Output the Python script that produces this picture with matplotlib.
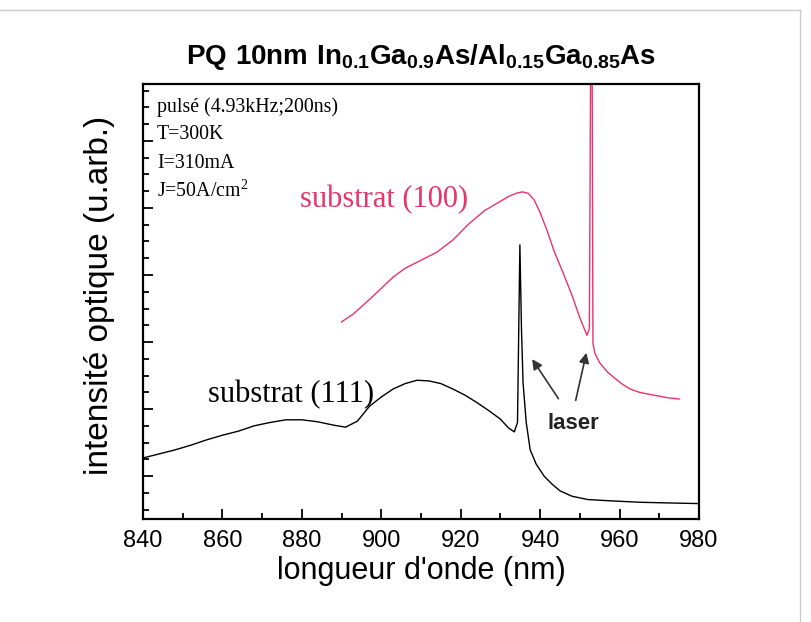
import numpy as np
import matplotlib
matplotlib.use("Agg")
import matplotlib.pyplot as plt
from matplotlib.ticker import MultipleLocator, NullFormatter
from matplotlib.lines import Line2D

# substrat (111) spectrum, black
wl_111 = [840, 844, 848, 852, 856, 860, 864, 868, 872, 876, 880, 884, 888, 891,
          894, 897, 900, 903, 906, 909, 912, 915, 918, 921, 924, 927, 930, 932,
          933.5, 934.3, 934.9, 935.3, 935.7, 936.5, 937.5, 939, 941, 943, 945,
          948, 952, 958, 965, 972, 980]
int_111 = [0.27, 0.33, 0.39, 0.46, 0.54, 0.61, 0.67, 0.75, 0.80, 0.84, 0.84, 0.81,
           0.76, 0.73, 0.82, 1.04, 1.18, 1.30, 1.38, 1.43, 1.42, 1.38, 1.30, 1.21,
           1.10, 0.98, 0.85, 0.72, 0.66, 0.80, 3.45, 2.20, 1.39, 0.80, 0.39, 0.18,
           0.00, -0.12, -0.22, -0.30, -0.35, -0.37, -0.39, -0.40, -0.41]

# substrat (100) spectrum, pink
wl_100 = [890, 893, 896, 900, 903, 906, 910, 914, 918, 922, 926, 930, 932, 934,
          935.5, 937, 938.5, 940, 941.7, 943.5, 945.8, 948, 950, 951.8, 952.4,
          952.7, 953.1, 953.3, 953.8, 955, 957, 958.4, 960.5, 962.6, 965, 968.4,
          972, 975]
int_100 = [2.30, 2.42, 2.58, 2.80, 2.97, 3.10, 3.22, 3.34, 3.52, 3.76, 3.96, 4.10,
           4.17, 4.22, 4.24, 4.22, 4.12, 3.93, 3.67, 3.36, 3.03, 2.70, 2.36, 2.10,
           2.20, 5.95, 5.95, 1.98, 1.83, 1.69, 1.55, 1.48, 1.38, 1.30, 1.25, 1.21,
           1.17, 1.15]

x_ticks = [840, 860, 880, 900, 920, 940, 960, 980]
conditions = ["pulsé (4.93kHz;200ns)", "T=300K", "I=310mA", "J=50A/cm$^2$"]
cond_y = [5.51, 5.09, 4.67, 4.25]

pink = "#e8336b"
plt.rcParams["mathtext.fontset"] = "custom"
plt.rcParams["mathtext.bf"] = "Liberation Sans:bold"
plt.rcParams["mathtext.rm"] = "Liberation Serif"

fig = plt.figure(figsize=(8.11, 6.22), dpi=100)
ax = fig.add_axes([0.1763, 0.1656, 0.6856, 0.6994])

ax.plot(wl_111, int_111, color="black", linewidth=1.0)
ax.plot(wl_100, int_100, color=pink, linewidth=1.0)

ax.set_xlim(840, 980)
ax.set_ylim(-0.64, 5.85)
ax.set_xticks(x_ticks)
ax.xaxis.set_minor_locator(MultipleLocator(10))
ax.yaxis.set_major_locator(MultipleLocator(1))
ax.yaxis.set_minor_locator(MultipleLocator(0.25))
ax.yaxis.set_major_formatter(NullFormatter())
ax.tick_params(which="both", direction="in", top=False, right=False, width=1.3)
ax.tick_params(which="major", length=7)
ax.tick_params(which="minor", length=4)
ax.tick_params(axis="x", labelsize=17, pad=8)
for lab in ax.get_xticklabels():
    lab.set_family("Liberation Sans")
for sp in ax.spines.values():
    sp.set_linewidth(1.6)

ax.set_xlabel("longueur d'onde (nm)", fontsize=22, family="Liberation Sans", labelpad=3)
ax.set_ylabel("intensité optique (u.arb.)", fontsize=24, family="Liberation Sans")
ax.yaxis.set_label_coords(-0.050, 0.515)

fig.text(0.519, 1 - 57 / 622,
         r"$\mathbf{PQ\ 10nm\ In_{0.1}Ga_{0.9}As/Al_{0.15}Ga_{0.85}As}$",
         fontsize=20, ha="center", va="center")

for txt, yy in zip(conditions, cond_y):
    ax.text(843.5, yy, txt, fontsize=14.3, family="Liberation Serif", va="center")

ax.text(879.5, 4.12, "substrat (100)", fontsize=22, family="Liberation Serif",
        color=pink, va="center")
ax.text(856.3, 1.21, "substrat (111)", fontsize=22, family="Liberation Serif",
        color="black", va="center")
ax.text(948.3, 0.79, "laser", fontsize=16, family="Liberation Sans",
        fontweight="bold", ha="center", va="center", color="#222222")

arrow = dict(arrowstyle="-|>", color="#333333", lw=1.2, mutation_scale=15)
ax.annotate("", xy=(937.6, 1.78), xytext=(945.0, 1.12), arrowprops=arrow)
ax.annotate("", xy=(951.8, 1.88), xytext=(948.8, 1.09), arrowprops=arrow)

# faint scan border
fig.add_artist(Line2D([0, 800 / 811], [1 - 10 / 622, 1 - 10 / 622],
                      color="#cccccc", lw=1))
fig.add_artist(Line2D([800 / 811, 800 / 811], [0, 1 - 10 / 622],
                      color="#cccccc", lw=1))

fig.savefig("out.png", dpi=100)
